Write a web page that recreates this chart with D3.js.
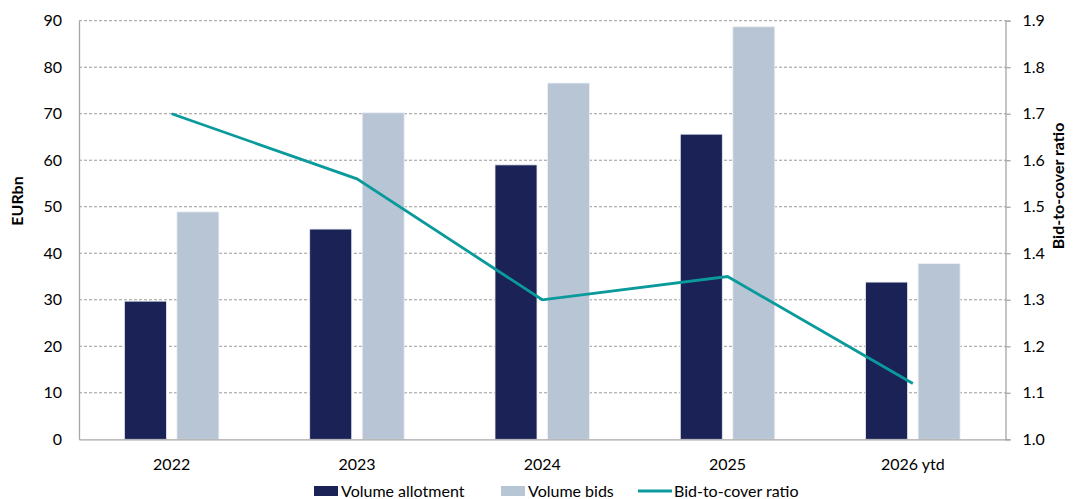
<!DOCTYPE html>
<html>
<head>
<meta charset="utf-8">
<script src="https://cdn.jsdelivr.net/npm/d3@7"></script>
<style>
  html, body { margin: 0; padding: 0; background: #fff; }
  svg { display: block; font-family: Lato, "Open Sans", sans-serif; }
</style>
</head>
<body>
<svg id="chart" width="1074" height="499"></svg>
<script>
// Yearly auction volumes (EUR bn) and the bid-to-cover ratio
const years = ["2022", "2023", "2024", "2025", "2026 ytd"];
const allotment = [29.7, 45.2, 59.0, 65.6, 33.8];
const bids = [48.9, 70.2, 76.6, 88.7, 37.8];
const bidToCover = [1.70, 1.56, 1.30, 1.35, 1.12];
const leftTicks = [0, 10, 20, 30, 40, 50, 60, 70, 80, 90];
const rightTicks = [1.0, 1.1, 1.2, 1.3, 1.4, 1.5, 1.6, 1.7, 1.8, 1.9];

const colors = { allot: "#1b2256", bids: "#b8c5d5", ratio: "#0a9a9c", axis: "#a6a6a6", grid: "#9a9a9a", text: "#000" };
const fontSize = 16;

const svg = d3.select("#chart");
const plot = { left: 79, right: 1005.5, top: 20.7, bottom: 439.3 };

const x = d3.scaleBand().domain(years).range([plot.left, plot.right]).paddingInner(0).paddingOuter(0);
const yL = d3.scaleLinear().domain([0, 90]).range([plot.bottom, plot.top]);
const yR = d3.scaleLinear().domain([1.0, 1.9]).range([plot.bottom, plot.top]);

const barW = 42, gap = 10.5;

// dashed gridlines
svg.append("g")
  .selectAll("line")
  .data(leftTicks.filter(d => d > 0))
  .join("line")
  .attr("x1", plot.left).attr("x2", plot.right)
  .attr("y1", d => yL(d)).attr("y2", d => yL(d))
  .attr("stroke", colors.grid).attr("stroke-width", 1)
  .attr("stroke-dasharray", "3,2");

// bars
const groups = svg.append("g").selectAll("g")
  .data(years.map((y, i) => ({ year: y, a: allotment[i], b: bids[i] })))
  .join("g");

groups.append("rect")
  .attr("x", d => x(d.year) + x.bandwidth() / 2 - gap / 2 - barW)
  .attr("y", d => yL(d.a))
  .attr("width", barW)
  .attr("height", d => yL(0) - yL(d.a))
  .attr("fill", colors.allot)
  .attr("stroke", "#e8eaf0").attr("stroke-width", 0.8);

groups.append("rect")
  .attr("x", d => x(d.year) + x.bandwidth() / 2 + gap / 2)
  .attr("y", d => yL(d.b))
  .attr("width", barW)
  .attr("height", d => yL(0) - yL(d.b))
  .attr("fill", colors.bids)
  .attr("stroke", "#eef1f5").attr("stroke-width", 0.8);

// axes
const leftAxis = d3.axisLeft(yL).tickValues(leftTicks).tickSize(0).tickPadding(17).tickFormat(d3.format("d"));
const gL = svg.append("g").attr("transform", `translate(${plot.left},0)`).call(leftAxis);
gL.select(".domain").attr("stroke", colors.axis).attr("stroke-width", 1.3);

const rightAxis = d3.axisRight(yR).tickValues(rightTicks).tickSize(5).tickPadding(12).tickFormat(d3.format(".1f"));
const gR = svg.append("g").attr("transform", `translate(${plot.right},0)`).call(rightAxis);
gR.select(".domain").attr("stroke", colors.axis).attr("stroke-width", 1.3);
gR.selectAll(".tick line").attr("stroke", colors.axis).attr("stroke-width", 1.3);

const bottomAxis = d3.axisBottom(x).tickSize(0).tickPadding(19);
const gB = svg.append("g").attr("transform", `translate(0,${plot.bottom})`).call(bottomAxis);
gB.select(".domain").attr("stroke", colors.axis).attr("stroke-width", 1.3);

svg.selectAll(".tick text")
  .attr("font-family", "Lato, 'Open Sans', sans-serif")
  .attr("font-size", fontSize)
  .attr("fill", colors.text);

// bid-to-cover line
const line = d3.line()
  .x((d, i) => x(years[i]) + x.bandwidth() / 2)
  .y(d => yR(d));
svg.append("path")
  .datum(bidToCover)
  .attr("d", line)
  .attr("fill", "none")
  .attr("stroke", colors.ratio)
  .attr("stroke-width", 2.8);

// axis titles
svg.append("text")
  .attr("transform", "translate(23,201) rotate(-90)")
  .attr("text-anchor", "middle")
  .attr("font-size", fontSize).attr("font-weight", "bold")
  .text("EURbn");

svg.append("text")
  .attr("transform", "translate(1064,186) rotate(-90)")
  .attr("text-anchor", "middle")
  .attr("font-size", fontSize).attr("font-weight", "bold")
  .text("Bid-to-cover ratio");

// legend
const legend = svg.append("g").attr("transform", "translate(0,491)");
const legendItems = [
  { label: "Volume allotment", type: "rect", color: colors.allot, x: 314 },
  { label: "Volume bids", type: "rect", color: colors.bids, x: 501 },
  { label: "Bid-to-cover ratio", type: "line", color: colors.ratio, x: 638 }
];
legendItems.forEach(it => {
  if (it.type === "rect") {
    legend.append("rect").attr("x", it.x).attr("y", -5).attr("width", 24).attr("height", 10).attr("fill", it.color);
  } else {
    legend.append("line").attr("x1", it.x).attr("x2", it.x + 34).attr("y1", 0).attr("y2", 0)
      .attr("stroke", it.color).attr("stroke-width", 2.8);
  }
  legend.append("text")
    .attr("x", it.x + (it.type === "rect" ? 27 : 36))
    .attr("y", 0).attr("dy", "0.35em")
    .attr("font-size", fontSize)
    .text(it.label);
});
</script>
</body>
</html>
